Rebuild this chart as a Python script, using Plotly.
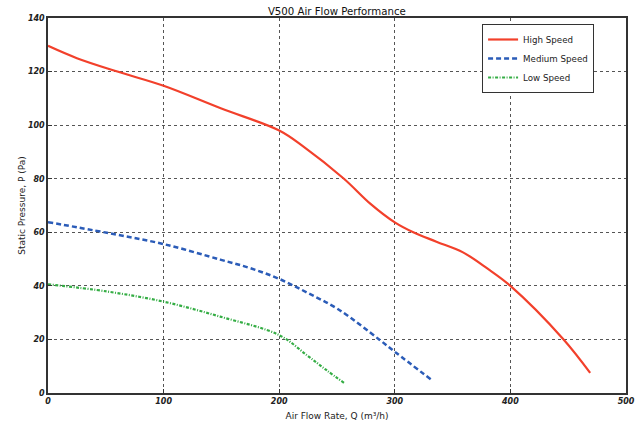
import plotly.graph_objects as go

high_q = [0, 25, 60, 100, 150, 200, 221, 256, 279, 300, 316, 336, 359, 380, 400, 446, 469]
high_p = [129.6, 125, 120, 114.7, 106.2, 98, 92, 80, 70.6, 63.7, 60.0, 56.5, 52.5, 46.5, 40, 20, 7.5]

med_q = [0, 51, 100, 149, 175, 200, 225, 252, 287, 300, 332]
med_p = [63.8, 59.8, 55.6, 49.8, 46.6, 42.6, 37.3, 31, 19.8, 15.4, 4.8]

low_q = [0, 51, 100, 149, 200, 224, 241, 256]
low_p = [40.6, 37.9, 34.1, 28.5, 21.6, 14.1, 8.5, 3.8]

x_ticks = [0, 100, 200, 300, 400, 500]
y_ticks = [0, 20, 40, 60, 80, 100, 120, 140]

fig = go.Figure()
fig.add_trace(go.Scatter(x=high_q, y=high_p, mode="lines", name="High Speed",
                         line=dict(color="#f2402b", width=2.2, shape="spline", smoothing=1.0)))
fig.add_trace(go.Scatter(x=med_q, y=med_p, mode="lines", name="Medium Speed",
                         line=dict(color="#2b5cb8", width=2.5, dash="5px,3px", shape="spline", smoothing=1.0)))
fig.add_trace(go.Scatter(x=low_q, y=low_p, mode="lines", name="Low Speed",
                         line=dict(color="#34ad44", width=2.2, dash="3px,1.5px,1px,1.5px", shape="spline", smoothing=1.0)))

axis_common = dict(
    showline=True, linecolor="#333", linewidth=1.5, mirror=True,
    showgrid=True, gridcolor="#555", griddash="dot", gridwidth=1,
    ticks="inside", ticklen=4, tickcolor="#333",
    tickfont=dict(family="DejaVu Sans", size=8, color="#222", style="italic", weight="bold"),
    zeroline=False, automargin=False,
)

fig.update_layout(
    width=641, height=424,
    margin=dict(l=47.5, r=15, t=18, b=31.3),
    paper_bgcolor="white", plot_bgcolor="white",
    title=dict(text="V500 Air Flow Performance", x=0.5255, xanchor="center", y=1 - 11 / 424, yanchor="middle",
               automargin=False, pad=dict(t=0, b=0, l=0, r=0),
               font=dict(family="DejaVu Sans", size=10.2, color="#111")),
    font=dict(family="DejaVu Sans", size=9, color="#222"),
    legend=dict(x=0.751, y=0.984, xanchor="left", yanchor="top",
                bordercolor="#333", borderwidth=1, bgcolor="white",
                entrywidth=88, entrywidthmode="pixels",
                font=dict(family="DejaVu Sans", size=8.7, color="#222")),
    showlegend=True,
)
fig.update_xaxes(range=[0, 500], tickvals=x_ticks, ticktext=[str(v) for v in x_ticks],
                 title=dict(text="Air Flow Rate, Q (m³/h)", standoff=7, font=dict(size=9)), **axis_common)
fig.update_yaxes(range=[0, 140], tickvals=y_ticks, ticktext=[str(v) for v in y_ticks],
                 title=dict(text="Static Pressure, P (Pa)", standoff=1, font=dict(size=9)), **axis_common)

fig.write_html("out.html", config={"displayModeBar": False},
               post_script="document.body.style.margin='0';document.body.style.padding='0';")
